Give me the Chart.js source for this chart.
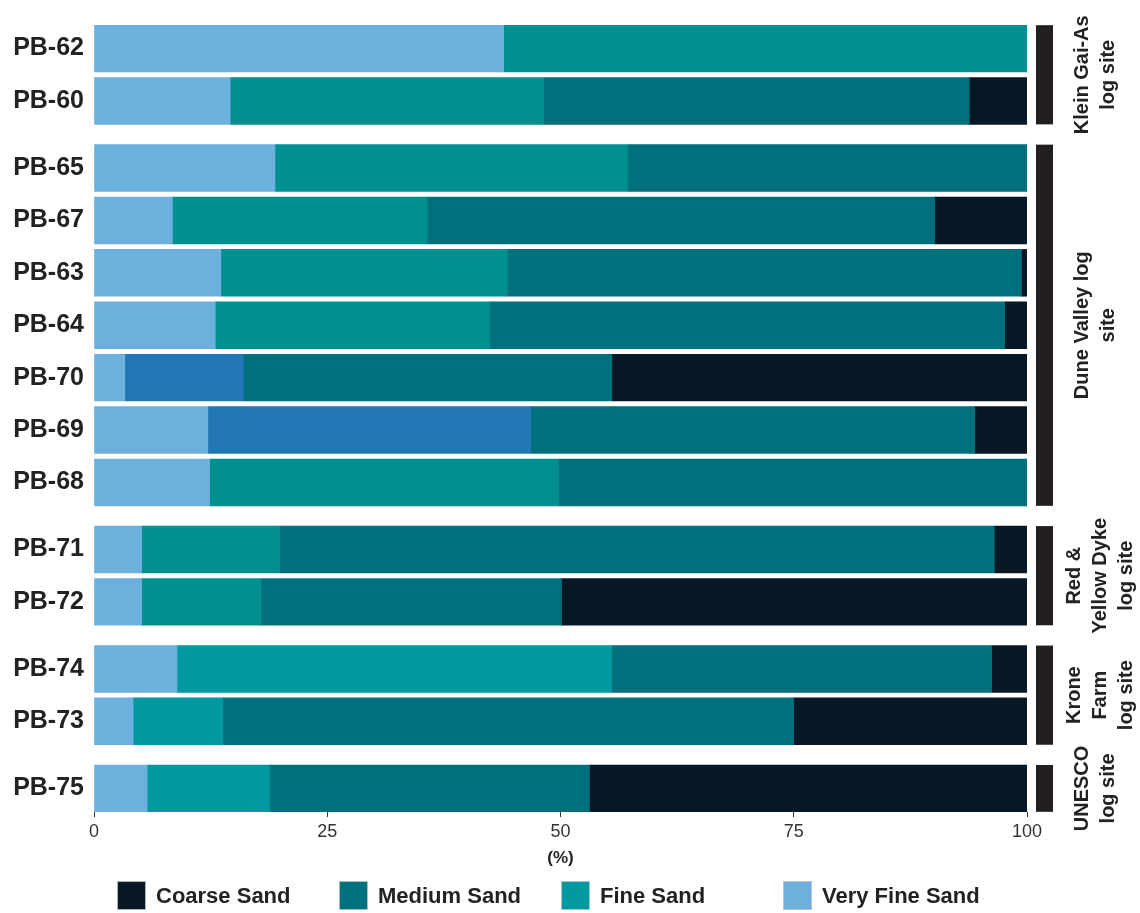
<!DOCTYPE html>
<html>
<head>
<meta charset="utf-8">
<title>Grain size distribution by log site</title>
<script src="https://cdn.jsdelivr.net/npm/chart.js@4.4.1/dist/chart.umd.min.js"></script>
<style>
  html, body { margin: 0; padding: 0; background: #ffffff; }
  #wrap { width: 1140px; height: 913px; }
</style>
</head>
<body>
<div id="wrap"><canvas id="c" width="1140" height="913"></canvas></div>
<script>
// Samples, top to bottom
const samples = ['PB-62','PB-60','PB-65','PB-67','PB-63','PB-64','PB-70','PB-69','PB-68','PB-71','PB-72','PB-74','PB-73','PB-75'];

// Grain size fractions (%) per sample
const veryFineSand = [43.9, 14.6, 19.4, 8.4, 13.6, 13.0, 3.3, 12.2, 12.4, 5.1, 5.1, 8.9, 4.2, 5.7];
const fineSand     = [56.1, 33.6, 37.8, 27.3, 30.7, 29.4, 12.7, 34.6, 37.4, 14.8, 12.8, 46.6, 9.6, 13.1];
const mediumSand   = [0, 45.6, 42.8, 54.4, 55.1, 55.2, 39.5, 47.6, 50.2, 76.6, 32.2, 40.7, 61.2, 34.3];
const coarseSand   = [0, 6.2, 0, 9.9, 0.6, 2.4, 44.5, 5.6, 0, 3.5, 49.9, 3.8, 25.0, 46.9];

// Log sites and how many consecutive samples belong to each
const siteNames = [
  ['Klein Gai-As', 'log site'],
  ['Dune Valley log', 'site'],
  ['Red &', 'Yellow Dyke', 'log site'],
  ['Krone', 'Farm', 'log site'],
  ['UNESCO', 'log site']
];
const siteSampleCounts = [2, 7, 2, 2, 1];

const xTickValues = [0, 25, 50, 75, 100];

// ---- styling ----
const COLORS = {
  coarse: '#081824',
  medium: '#00707c',
  fine: '#0099a0',
  veryFine: '#6cb1dd'
};
// fine-sand fill per sample row
const fineSandFills = ['#008f8f','#008f8f','#008f8f','#008f8f','#008f8f','#008f8f',
                       '#2176b5','#2176b5','#008f8f','#00918e','#00918e',
                       '#0099a0','#0099a0','#0099a0'];

const FONT = "'Liberation Sans', Arial, Helvetica, sans-serif";
Chart.defaults.font.family = FONT;

// Row positions on the index axis: one unit per sample, a small extra gap between sites
const SITE_GAP = 0.28;
const rowPos = [];
(function () {
  let p = 0;
  siteSampleCounts.forEach((n) => {
    for (let i = 0; i < n; i++) { rowPos.push(p); p += 1; }
    p += SITE_GAP;
  });
})();
const HALF_ROW = 0.45;
const BAR_PX = 46.8;

function series(values) {
  return values.map((v, i) => ({ x: v, y: rowPos[i] }));
}

// Site brackets and rotated site names on the right
const siteBrackets = {
  id: 'siteBrackets',
  afterDraw(chart) {
    const { ctx } = chart;
    const ys = chart.scales.y;
    let start = 0;
    ctx.save();
    siteSampleCounts.forEach((n, g) => {
      const top = ys.getPixelForValue(rowPos[start]) - BAR_PX / 2;
      const bottom = ys.getPixelForValue(rowPos[start + n - 1]) + BAR_PX / 2;
      ctx.fillStyle = '#231f20';
      ctx.fillRect(1036, top, 17, bottom - top);

      const lines = siteNames[g];
      const cy = (top + bottom) / 2;
      const lh = 26;
      const cx = lines.length === 3 ? 1100 : 1095;
      ctx.save();
      ctx.translate(cx, cy);
      ctx.rotate(-Math.PI / 2);
      ctx.fillStyle = '#222222';
      ctx.font = 'bold 20px ' + FONT;
      ctx.textAlign = 'center';
      ctx.textBaseline = 'middle';
      lines.forEach((t, i) => {
        ctx.fillText(t, 0, (i - (lines.length - 1) / 2) * lh);
      });
      ctx.restore();
      start += n;
    });
    ctx.restore();
  }
};

// Legend row along the bottom
const sandLegend = {
  id: 'sandLegend',
  afterDraw(chart, args, opts) {
    const { ctx } = chart;
    const items = chart.data.datasets.slice().reverse();
    ctx.save();
    ctx.font = 'bold 22px ' + FONT;
    ctx.textBaseline = 'middle';
    ctx.textAlign = 'left';
    items.forEach((ds, i) => {
      const x = opts.left + i * opts.step;
      ctx.fillStyle = ds.legendColor;
      ctx.fillRect(x, opts.top, opts.box, opts.box);
      ctx.strokeStyle = 'rgba(190,200,205,0.9)';
      ctx.lineWidth = 1;
      ctx.strokeRect(x + 0.5, opts.top + 0.5, opts.box - 1, opts.box - 1);
      ctx.fillStyle = '#222222';
      ctx.fillText(ds.label, x + opts.box + 10, opts.top + opts.box / 2 + 1);
    });
    ctx.restore();
  }
};

const datasets = [
  { label: 'Very Fine Sand', data: series(veryFineSand), backgroundColor: COLORS.veryFine, legendColor: COLORS.veryFine },
  { label: 'Fine Sand', data: series(fineSand), backgroundColor: fineSandFills, legendColor: COLORS.fine },
  { label: 'Medium Sand', data: series(mediumSand), backgroundColor: COLORS.medium, legendColor: COLORS.medium },
  { label: 'Coarse Sand', data: series(coarseSand), backgroundColor: COLORS.coarse, legendColor: COLORS.coarse }
].map(d => Object.assign(d, { barThickness: BAR_PX, borderWidth: 0 }));

new Chart(document.getElementById('c').getContext('2d'), {
  type: 'bar',
  data: { datasets },
  plugins: [siteBrackets, sandLegend],
  options: {
    indexAxis: 'y',
    responsive: false,
    animation: false,
    layout: { padding: { top: 25, right: 113, bottom: 44, left: 0 } },
    plugins: {
      legend: { display: false },
      tooltip: { enabled: false },
      sandLegend: { left: 117, step: 222, top: 881, box: 29 }
    },
    scales: {
      x: {
        type: 'linear',
        stacked: true,
        min: 0,
        max: 100,
        afterBuildTicks(scale) { scale.ticks = xTickValues.map(v => ({ value: v })); },
        grid: { display: true, drawOnChartArea: false, drawTicks: true, tickLength: 5, color: '#333333', lineWidth: 1 },
        border: { display: false },
        ticks: { padding: 4, color: '#333333', font: { size: 18 } },
        title: {
          display: true,
          text: '(%)',
          color: '#222222',
          font: { size: 17, weight: 'bold' },
          padding: { top: 2, bottom: 0 }
        }
      },
      y: {
        type: 'linear',
        stacked: true,
        reverse: true,
        offset: false,
        min: -HALF_ROW,
        max: rowPos[rowPos.length - 1] + HALF_ROW,
        afterBuildTicks(scale) { scale.ticks = rowPos.map(v => ({ value: v })); },
        afterFit(scale) {
          scale.width = 94;
          scale.paddingTop = 0;
          scale.paddingBottom = 0;
        },
        grid: { display: false, drawTicks: false, offset: false },
        border: { display: false },
        ticks: {
          padding: 10,
          color: '#222222',
          font: { size: 25, weight: 'bold' },
          callback: (v, i) => samples[i]
        }
      }
    }
  }
});
</script>
</body>
</html>
